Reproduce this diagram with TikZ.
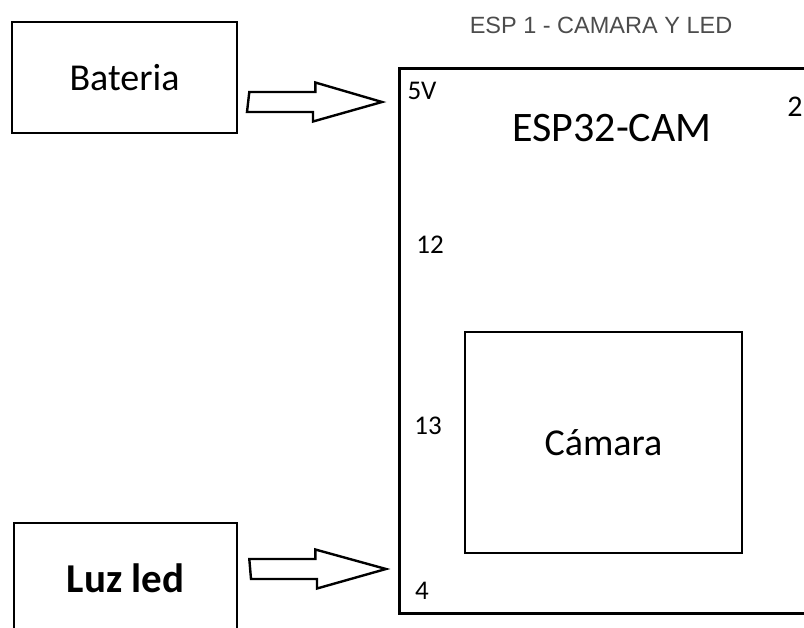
\documentclass[tikz,border=0pt]{standalone}
\usepackage{fontspec}
\setmainfont{Carlito}
\newfontfamily\titlefont{Liberation Sans}
\begin{document}
\begin{tikzpicture}[x=1pt,y=-1pt,
  box/.style={draw,line width=2.6pt,inner sep=0pt},
  big/.style={font=\fontsize{38}{40}\selectfont},
  pin/.style={font=\fontsize{27}{29}\selectfont,inner sep=0pt},
  hollow/.style={draw,line width=2.4pt,line join=miter}]
 \useasboundingbox (0,0) rectangle (804,628);
 \clip (0,0) rectangle (804,628);
 % blocks
 \node[box,big,minimum width=225pt,minimum height=111pt] (bat) at (124.5,77.5) {Bateria};
 \node[box,big,font=\fontsize{41}{43}\selectfont\bfseries,minimum width=223pt,minimum height=110pt] (led) at (125.5,578) {Luz led};
 \node[box,minimum width=440pt,minimum height=545pt,anchor=north west] (esp) at (398,67) {};
 \node[box,big,minimum width=277pt,minimum height=221pt] (cam) at (603.5,442.5) {Cámara};
 \node[font=\fontsize{42}{44}\selectfont] (espname) at (612,128) {ESP32-CAM};
 \node[font=\titlefont\fontsize{23.5}{25}\selectfont,text=black!70] (title) at (601,25) {ESP 1 - CAMARA Y LED};
 % pins
 \node[pin] (p5v) at (422,91) {5V};
 \node[pin] (p12) at (430,245) {12};
 \node[pin] (p13) at (428,426) {13};
 \node[pin] (p4) at (422,591) {4};
 \node[pin,font=\fontsize{30}{32}\selectfont] (p2) at (795,107) {2};
 % hollow arrows
 \coordinate (t5v) at ([xshift=-16pt]esp.west |- 0,102);
 \coordinate (t4) at ([xshift=-12pt]esp.west |- 0,569);
 \foreach \a/\t in {bat/t5v,led/t4}{
   \draw[hollow] ([xshift=11pt]\a.east |- \t) ++(0,-10) -- ++(66,0) -- ++(0,-9.5)
     -- (\t) -- ++(-69,19.5) -- ++(0,-9.5) -- ++(-66,0) -- cycle;
 }
\end{tikzpicture}
\end{document}
